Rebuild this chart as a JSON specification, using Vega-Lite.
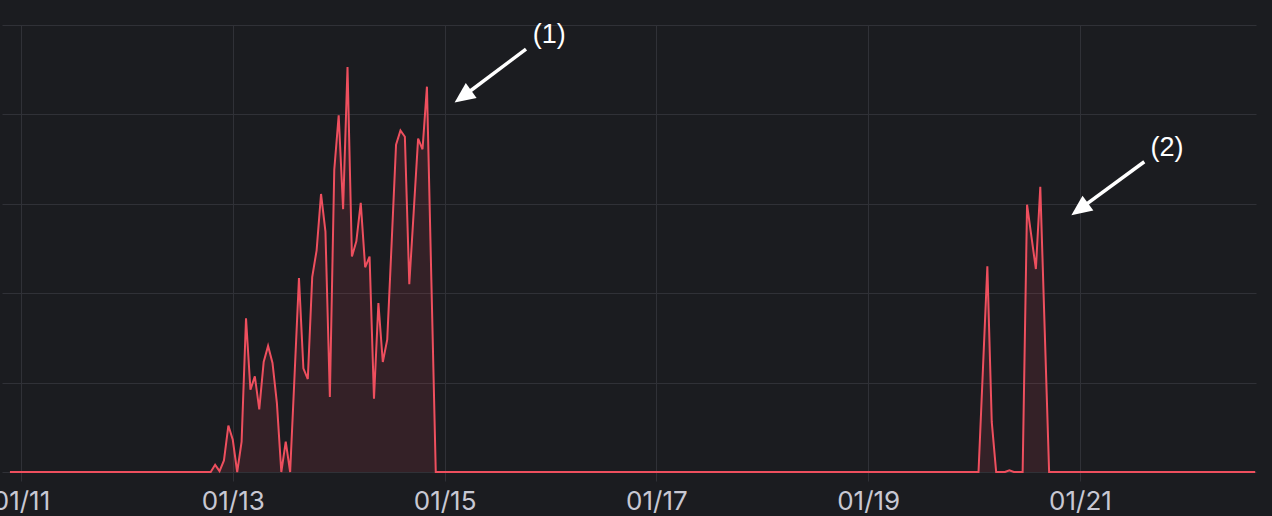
{
  "$schema": "https://vega.github.io/schema/vega-lite/v6.json",
  "width": 1254,
  "height": 447,
  "autosize": {"type": "none"},
  "padding": {"left": 2, "top": 25, "right": 16, "bottom": 44},
  "background": "#1b1c20",
  "config": {"view": {"stroke": null}},
  "datasets": {
    "series": [
      {"t": "2025-01-10T21:30:00Z", "v": 0},
      {"t": "2025-01-12T19:00:00Z", "v": 0},
      {"t": "2025-01-12T20:00:00Z", "v": 0.8},
      {"t": "2025-01-12T21:00:00Z", "v": 0.1},
      {"t": "2025-01-12T22:00:00Z", "v": 1.3},
      {"t": "2025-01-12T23:00:00Z", "v": 5.2},
      {"t": "2025-01-13T00:00:00Z", "v": 3.6},
      {"t": "2025-01-13T01:00:00Z", "v": 0},
      {"t": "2025-01-13T02:00:00Z", "v": 3.4},
      {"t": "2025-01-13T03:00:00Z", "v": 17.2},
      {"t": "2025-01-13T04:00:00Z", "v": 9.2},
      {"t": "2025-01-13T05:00:00Z", "v": 10.7},
      {"t": "2025-01-13T06:00:00Z", "v": 7.0},
      {"t": "2025-01-13T07:00:00Z", "v": 12.3},
      {"t": "2025-01-13T08:00:00Z", "v": 14.1},
      {"t": "2025-01-13T09:00:00Z", "v": 12.2},
      {"t": "2025-01-13T10:00:00Z", "v": 7.7},
      {"t": "2025-01-13T11:00:00Z", "v": 0},
      {"t": "2025-01-13T12:00:00Z", "v": 3.4},
      {"t": "2025-01-13T13:00:00Z", "v": 0},
      {"t": "2025-01-13T14:00:00Z", "v": 10.8},
      {"t": "2025-01-13T15:00:00Z", "v": 21.7},
      {"t": "2025-01-13T16:00:00Z", "v": 11.6},
      {"t": "2025-01-13T17:00:00Z", "v": 10.4},
      {"t": "2025-01-13T18:00:00Z", "v": 21.8},
      {"t": "2025-01-13T19:00:00Z", "v": 24.8},
      {"t": "2025-01-13T20:00:00Z", "v": 31.1},
      {"t": "2025-01-13T21:00:00Z", "v": 26.9},
      {"t": "2025-01-13T22:00:00Z", "v": 8.4},
      {"t": "2025-01-13T23:00:00Z", "v": 33.8},
      {"t": "2025-01-14T00:00:00Z", "v": 39.9},
      {"t": "2025-01-14T01:00:00Z", "v": 29.4},
      {"t": "2025-01-14T02:00:00Z", "v": 45.3},
      {"t": "2025-01-14T03:00:00Z", "v": 24.1},
      {"t": "2025-01-14T04:00:00Z", "v": 25.8},
      {"t": "2025-01-14T05:00:00Z", "v": 30.1},
      {"t": "2025-01-14T06:00:00Z", "v": 22.9},
      {"t": "2025-01-14T07:00:00Z", "v": 24.1},
      {"t": "2025-01-14T08:00:00Z", "v": 8.2},
      {"t": "2025-01-14T09:00:00Z", "v": 18.9},
      {"t": "2025-01-14T10:00:00Z", "v": 12.3},
      {"t": "2025-01-14T11:00:00Z", "v": 14.8},
      {"t": "2025-01-14T12:00:00Z", "v": 25.6},
      {"t": "2025-01-14T13:00:00Z", "v": 36.6},
      {"t": "2025-01-14T14:00:00Z", "v": 38.2},
      {"t": "2025-01-14T15:00:00Z", "v": 37.5},
      {"t": "2025-01-14T16:00:00Z", "v": 21.0},
      {"t": "2025-01-14T17:00:00Z", "v": 29.1},
      {"t": "2025-01-14T18:00:00Z", "v": 37.3},
      {"t": "2025-01-14T19:00:00Z", "v": 36.1},
      {"t": "2025-01-14T20:00:00Z", "v": 43.1},
      {"t": "2025-01-14T21:00:00Z", "v": 21.5},
      {"t": "2025-01-14T22:00:00Z", "v": 0},
      {"t": "2025-01-20T01:00:00Z", "v": 0},
      {"t": "2025-01-20T02:00:00Z", "v": 11.5},
      {"t": "2025-01-20T03:00:00Z", "v": 23.0},
      {"t": "2025-01-20T04:00:00Z", "v": 5.6},
      {"t": "2025-01-20T05:00:00Z", "v": 0},
      {"t": "2025-01-20T07:00:00Z", "v": 0},
      {"t": "2025-01-20T08:00:00Z", "v": 0.2},
      {"t": "2025-01-20T09:00:00Z", "v": 0},
      {"t": "2025-01-20T11:00:00Z", "v": 0},
      {"t": "2025-01-20T12:00:00Z", "v": 29.9},
      {"t": "2025-01-20T13:00:00Z", "v": 26.3},
      {"t": "2025-01-20T14:00:00Z", "v": 22.7},
      {"t": "2025-01-20T15:00:00Z", "v": 31.9},
      {"t": "2025-01-20T16:00:00Z", "v": 15.9},
      {"t": "2025-01-20T17:00:00Z", "v": 0},
      {"t": "2025-01-22T15:42:00Z", "v": 0}
    ],
    "notes": [
      {"label": "(1)", "lt": "2025-01-15T23:44:00Z", "lv": 48.9, "at": "2025-01-15T18:27:00Z", "av": 47.3, "ht": "2025-01-15T04:09:00Z", "hv": 42.0},
      {"label": "(2)", "lt": "2025-01-21T19:43:00Z", "lv": 36.2, "at": "2025-01-21T14:34:00Z", "av": 34.7, "ht": "2025-01-20T23:55:00Z", "hv": 29.4}
    ]
  },
  "layer": [
    {
      "data": {"name": "series"},
      "mark": {"type": "area", "color": "#F2495C", "opacity": 0.12, "interpolate": "linear"},
      "encoding": {
        "x": {
          "field": "t", "type": "temporal",
          "scale": {"type": "utc", "domain": [
            {"year": 2025, "month": 1, "date": 10, "hours": 19, "minutes": 42, "utc": true},
            {"year": 2025, "month": 1, "date": 22, "hours": 15, "minutes": 53, "utc": true}
          ]},
          "axis": {
            "title": null,
            "values": [
              {"year": 2025, "month": 1, "date": 11, "utc": true},
              {"year": 2025, "month": 1, "date": 13, "utc": true},
              {"year": 2025, "month": 1, "date": 15, "utc": true},
              {"year": 2025, "month": 1, "date": 17, "utc": true},
              {"year": 2025, "month": 1, "date": 19, "utc": true},
              {"year": 2025, "month": 1, "date": 21, "utc": true}
            ],
            "labelExpr": "utcFormat(datum.value, '%m/%d')",
            "grid": true,
            "gridColor": "#303137",
            "gridWidth": 1,
            "ticks": true,
            "tickSize": 9,
            "tickColor": "#303137",
            "domain": false,
            "labelFont": "Inter",
            "labelFontSize": 26,
            "labelColor": "#c8c8d3",
            "labelPadding": 7,
            "labelFlush": false,
            "labelOverlap": false
          }
        },
        "y": {
          "field": "v", "type": "quantitative",
          "scale": {"domain": [0, 50], "nice": false},
          "axis": {
            "title": null,
            "values": [0, 10, 20, 30, 40, 50],
            "labels": false,
            "ticks": false,
            "domain": false,
            "grid": true,
            "gridColor": "#303137",
            "gridWidth": 1
          }
        }
      }
    },
    {
      "data": {"name": "series"},
      "mark": {"type": "line", "color": "#EE4F5E", "strokeWidth": 2, "interpolate": "linear"},
      "encoding": {
        "x": {"field": "t", "type": "temporal"},
        "y": {"field": "v", "type": "quantitative"}
      }
    },
    {
      "data": {"name": "notes"},
      "mark": {"type": "rule", "color": "#ffffff", "strokeWidth": 3.5},
      "encoding": {
        "x": {"field": "at", "type": "temporal"},
        "y": {"field": "av", "type": "quantitative"},
        "x2": {"field": "ht"},
        "y2": {"field": "hv"}
      }
    },
    {
      "data": {"name": "notes"},
      "mark": {"type": "point", "shape": "M0,-1L-0.9,1L0.9,1Z", "filled": true, "color": "#ffffff", "opacity": 1, "size": 420, "angle": 234, "strokeWidth": 0},
      "encoding": {
        "x": {"field": "ht", "type": "temporal"},
        "y": {"field": "hv", "type": "quantitative"}
      }
    },
    {
      "data": {"name": "notes"},
      "mark": {"type": "text", "color": "#ffffff", "font": "Liberation Sans", "fontSize": 27, "align": "center", "baseline": "middle"},
      "encoding": {
        "x": {"field": "lt", "type": "temporal"},
        "y": {"field": "lv", "type": "quantitative"},
        "text": {"field": "label"}
      }
    }
  ]
}
